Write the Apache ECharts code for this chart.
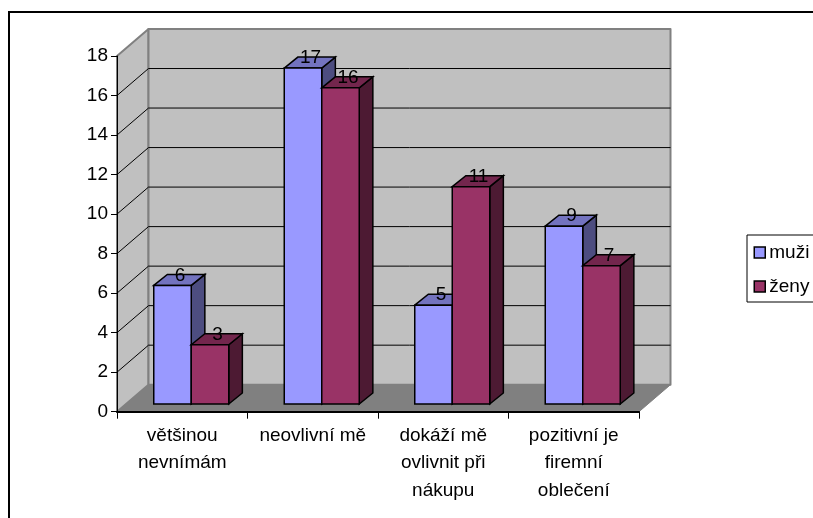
<!DOCTYPE html>
<html>
<head>
<meta charset="utf-8">
<style>html,body{margin:0;padding:0;background:#fff}#chart{width:813px;height:518px}</style>
<script src="https://cdn.jsdelivr.net/npm/echarts@6/dist/echarts.min.js"></script>
</head>
<body>
<div id="chart"></div>
<script>
// Survey answers, counted separately for men and women
const categories = ['většinou\nnevnímám', 'neovlivní mě', 'dokáží mě\novlivnit při\nnákupu', 'pozitivní je\nfiremní\noblečení'];
const muzi = [6, 17, 5, 9];
const zeny = [3, 16, 11, 7];
const yTicks = [2, 4, 6, 8, 10, 12, 14, 16];

const FONT = '"Liberation Sans", Arial, sans-serif';
const FONT_SIZE = 19;

// Oblique projection of the box: offset from the front plane to the back wall
const DEPTH_X = 31.5, DEPTH_Y = -27;
// Where the bars sit within that depth, and how deep they are
const BAR_X = 9, BAR_Y = -7.7, BAR_DX = 13.6, BAR_DY = -11, BAR_W = 37.5;

const chart = echarts.init(document.getElementById('chart'), null, {renderer: 'canvas'});

// Floor and the two walls of the box
function renderWalls(params) {
  const c = params.coordSys;
  const l = c.x, r = c.x + c.width, t = c.y, b = c.y + c.height;
  const dx = DEPTH_X, dy = DEPTH_Y;
  const edge = {stroke: '#808080', lineWidth: 2, lineJoin: 'round'};
  return {type: 'group', children: [
    {type: 'polygon', shape: {points: [[l, b], [l + dx, b + dy], [r + dx, b + dy], [r, b]]},
     style: {fill: '#808080', stroke: '#808080', lineWidth: 1}},
    {type: 'polygon', shape: {points: [[l, t], [l + dx, t + dy], [l + dx, b + dy], [l, b]]},
     style: Object.assign({fill: '#C0C0C0'}, edge)},
    {type: 'rect', shape: {x: l + dx, y: t + dy, width: c.width, height: c.height},
     style: Object.assign({fill: '#C0C0C0'}, edge)}
  ]};
}

// One gridline per tick, running across the side wall and the back wall
function renderGrid(params, api) {
  const c = params.coordSys;
  const y = api.coord([0, api.value(0)])[1];
  const l = c.x, r = c.x + c.width;
  const line = {stroke: '#000', lineWidth: 1};
  return {type: 'polyline',
    shape: {points: [[l, y], [l + DEPTH_X, y + DEPTH_Y], [r + DEPTH_X, y + DEPTH_Y]]},
    style: Object.assign({fill: null}, line)};
}

// A bar as three faces (front, top, side) with its value above it
function barRenderer(seriesIndex, front, top, side) {
  return function (params, api) {
    const p = api.coord([api.value(0), api.value(1)]);
    const base = api.coord([api.value(0), 0]);
    const x = p[0] + BAR_X - (seriesIndex === 0 ? BAR_W : 0);
    const yTop = p[1] + BAR_Y, yBase = base[1] + BAR_Y;
    const x2 = x + BAR_W;
    const stroke = {stroke: '#000', lineWidth: 1.5, lineJoin: 'miter'};
    return {type: 'group', children: [
      {type: 'polygon', shape: {points: [[x2, yTop], [x2 + BAR_DX, yTop + BAR_DY], [x2 + BAR_DX, yBase + BAR_DY], [x2, yBase]]},
       style: Object.assign({fill: side}, stroke)},
      {type: 'polygon', shape: {points: [[x, yTop], [x + BAR_DX, yTop + BAR_DY], [x2 + BAR_DX, yTop + BAR_DY], [x2, yTop]]},
       style: Object.assign({fill: top}, stroke)},
      {type: 'rect', shape: {x: x, y: yTop, width: BAR_W, height: yBase - yTop},
       style: Object.assign({fill: front}, stroke)},
      {type: 'text', z2: 50,
       style: {text: String(api.value(1)), x: x + BAR_W / 2 + 7.5, y: yTop - 10,
               align: 'center', verticalAlign: 'middle', fill: '#000',
               font: FONT_SIZE + 'px ' + FONT}}
    ]};
  };
}

chart.setOption({
  animation: false,
  backgroundColor: '#fff',
  textStyle: {fontFamily: FONT},
  graphic: [{type: 'rect', silent: true, z: -10,
    shape: {x: 9, y: 12, width: 1200, height: 1200},
    style: {fill: 'none', stroke: '#000', lineWidth: 2}}],
  grid: {left: 117, top: 56, width: 522, height: 355.7},
  xAxis: {
    type: 'category', data: categories, z: 5,
    axisLine: {lineStyle: {color: '#000', width: 2}},
    axisTick: {show: true, length: 7, lineStyle: {color: '#000', width: 1}},
    axisLabel: {interval: 0, color: '#000', fontSize: FONT_SIZE, fontFamily: FONT, lineHeight: 27.5, margin: 10}
  },
  yAxis: {
    type: 'value', min: 0, max: 18, interval: 2, z: 5,
    axisLine: {show: true, lineStyle: {color: '#000', width: 1}},
    axisTick: {show: true, length: 6, lineStyle: {color: '#000', width: 1}},
    axisLabel: {color: '#000', fontSize: FONT_SIZE, fontFamily: FONT, margin: 9, padding: [4, 0, 0, 0]},
    splitLine: {show: false}
  },
  legend: {
    orient: 'vertical', left: 747, top: 235,
    padding: [8, 14, 6, 6.5], itemGap: 15, itemWidth: 11, itemHeight: 11,
    borderColor: '#000', borderWidth: 1, backgroundColor: '#fff',
    data: [{name: 'muži', icon: 'rect'}, {name: 'ženy', icon: 'rect'}],
    textStyle: {color: '#000', fontSize: FONT_SIZE, fontFamily: FONT, padding: [0, 0, 0, -1]},
    itemStyle: {borderColor: '#000', borderWidth: 1.5}
  },
  series: [
    {type: 'custom', name: 'box', z: 1, silent: true, clip: false, renderItem: renderWalls, data: [[0, 0]]},
    {type: 'custom', name: 'mřížka', z: 1, silent: true, clip: false, renderItem: renderGrid,
     encode: {x: null, y: 0}, data: yTicks.map(v => [v])},
    {type: 'custom', name: 'muži', z: 2, clip: false, itemStyle: {color: '#9999FF'},
     renderItem: barRenderer(0, '#9999FF', '#7373BF', '#4D4D80'),
     data: muzi.map((v, i) => [i, v])},
    {type: 'custom', name: 'ženy', z: 3, clip: false, itemStyle: {color: '#993366'},
     renderItem: barRenderer(1, '#993366', '#73264D', '#4D1A33'),
     data: zeny.map((v, i) => [i, v])}
  ]
});
</script>
</body>
</html>
